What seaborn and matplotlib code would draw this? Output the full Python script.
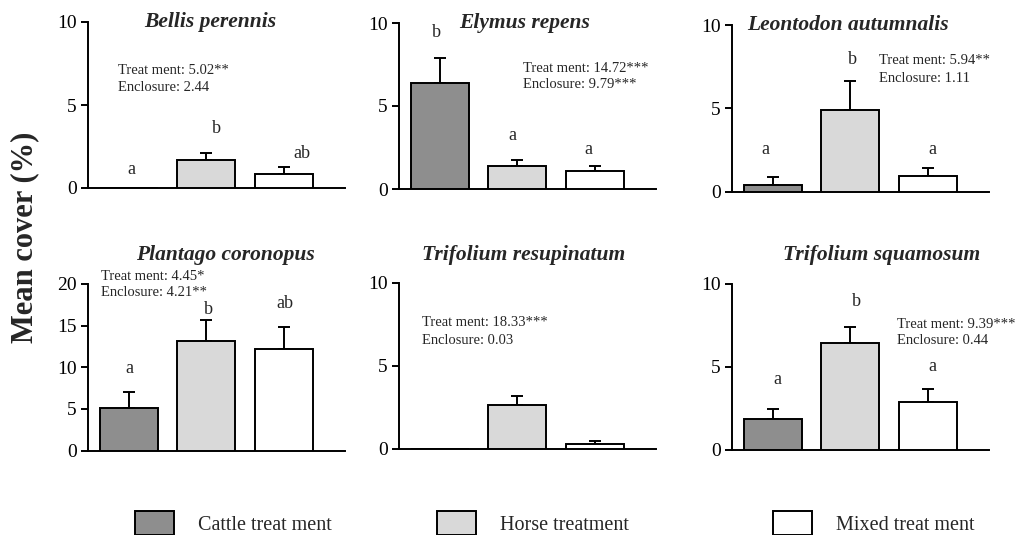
import numpy as np
import pandas as pd
import matplotlib
matplotlib.use("Agg")
import matplotlib.pyplot as plt
import seaborn as sns
from matplotlib.patches import Patch

# ---- data -------------------------------------------------------------
treatments = ["Cattle", "Horse", "Mixed"]
species = ["Bellis perennis", "Elymus repens", "Leontodon autumnalis",
           "Plantago coronopus", "Trifolium resupinatum", "Trifolium squamosum"]
cattle_mean = [0.0, 6.37, 0.38, 5.10, 0.0, 1.84]
horse_mean = [1.67, 1.39, 4.90, 13.18, 2.63, 6.44]
mixed_mean = [0.84, 1.08, 0.96, 12.18, 0.30, 2.86]
cattle_se = [0.0, 1.55, 0.48, 1.87, 0.0, 0.64]
horse_se = [0.42, 0.36, 1.74, 2.45, 0.56, 0.94]
mixed_se = [0.40, 0.30, 0.46, 2.65, 0.16, 0.78]
treatment_F = ["5.02**", "14.72***", "5.94**", "4.45*", "18.33***", "9.39***"]
enclosure_F = ["2.44", "9.79***", "1.11", "4.21**", "0.03", "0.44"]
group_letters = [["a", "b", "ab"], ["b", "a", "a"], ["a", "b", "a"],
                 ["a", "b", "ab"], [], ["a", "b", "a"]]
y_max = [10, 10, 10, 20, 10, 10]
legend_labels = ["Cattle treat ment", "Horse treatment", "Mixed treat ment"]

# ---- style ------------------------------------------------------------
sns.set_style("ticks")
plt.rcParams["font.family"] = ["Liberation Serif", "DejaVu Serif"]
bar_colors = ["#8e8e8e", "#d9d9d9", "#ffffff"]
LW = 1.4

W, H = 1018, 535
fig = plt.figure(figsize=(W / 100, H / 100), dpi=100)


def fx(px):
    return px / W


def fy(py):
    return 1 - py / H


# panel geometry in pixels: (y-axis x, zero y, top y)
panel_px = [(88, 188, 22), (399, 189, 23), (732, 191.5, 25),
            (88, 450.5, 284), (399, 448.5, 282.5), (732, 450, 283.5)]
panel_w = 257
title_px = [(210, 22), (525, 23), (848, 25), (225, 255), (524, 255), (882, 255)]
stats_px = [(118, 70.5), (523, 68), (879, 61), (101, 276), (422, 323), (897, 324)]
letter_pos = [
    [(0.03, 1.1), (1.13, 3.6), (2.23, 2.1)],
    [(-0.04, 9.4), (0.94, 3.2), (1.92, 2.4)],
    [(-0.10, 2.5), (1.03, 7.9), (2.06, 2.5)],
    [(0.01, 9.9), (1.03, 16.9), (2.01, 17.7)],
    [],
    [(0.06, 4.26), (1.08, 8.94), (2.06, 5.04)],
]

for i, name in enumerate(species):
    x0, y0, y1 = panel_px[i]
    ax = fig.add_axes([fx(x0), fy(y0), panel_w / W, (y0 - y1) / H])
    means = [cattle_mean[i], horse_mean[i], mixed_mean[i]]
    errs = [cattle_se[i], horse_se[i], mixed_se[i]]
    df = pd.DataFrame({"treatment": treatments, "cover": means, "se": errs})

    sns.barplot(data=df, x="treatment", y="cover", hue="treatment",
                palette=bar_colors, order=treatments, hue_order=treatments,
                edgecolor="black", linewidth=LW, width=0.75,
                errorbar=None, legend=False, ax=ax, zorder=3)

    # upper error bars only
    shown = df[df["cover"] > 0]
    xpos = [treatments.index(t) for t in shown["treatment"]]
    ax.errorbar(xpos, shown["cover"], yerr=[np.zeros(len(shown)), shown["se"]],
                fmt="none", ecolor="black", elinewidth=LW, capsize=4.3,
                capthick=LW, zorder=2)

    ax.set_xlim(-0.53, 2.79)
    ax.set_ylim(0, y_max[i])
    ax.set_yticks(np.arange(0, y_max[i] + 1, 5))
    ax.set_xticks([])
    ax.set_xlabel("")
    ax.set_ylabel("")
    for s in ["top", "right"]:
        ax.spines[s].set_visible(False)
    for s in ["left", "bottom"]:
        ax.spines[s].set_linewidth(LW)
        ax.spines[s].set_color("black")
    ax.tick_params(axis="y", direction="out", length=5, width=LW,
                   labelsize=14, pad=3, colors="black")
    ax.patch.set_alpha(0)

    for (lx, ly), txt in zip(letter_pos[i], group_letters[i]):
        ax.text(lx, ly, txt, ha="center", va="center", fontsize=13)

    tx, ty = title_px[i]
    fig.text(fx(tx), fy(ty), name, ha="center", va="center", fontsize=15.5,
             fontweight="bold", fontstyle="italic")
    sx, sy = stats_px[i]
    fig.text(fx(sx), fy(sy), f"Treat ment: {treatment_F[i]}", ha="left",
             va="center", fontsize=10.5)
    fig.text(fx(sx), fy(sy + 17), f"Enclosure: {enclosure_F[i]}", ha="left",
             va="center", fontsize=10.5)

fig.text(fx(25), fy(237), "Mean cover (%)", rotation=90, ha="center",
         va="center", fontsize=22, fontweight="bold")

# legend: three separate keys spread along the bottom
legend_x = [135, 437, 773]
for lx, label, col in zip(legend_x, legend_labels, bar_colors):
    h = Patch(facecolor=col, edgecolor="black", linewidth=LW)
    fig.legend(handles=[h], labels=[label], loc="center left",
               bbox_to_anchor=(fx(lx), fy(523)), frameon=False,
               fontsize=14.5, handlelength=1.95, handleheight=1.5,
               handletextpad=1.2, borderpad=0, borderaxespad=0)

fig.savefig("out.png", dpi=100)
